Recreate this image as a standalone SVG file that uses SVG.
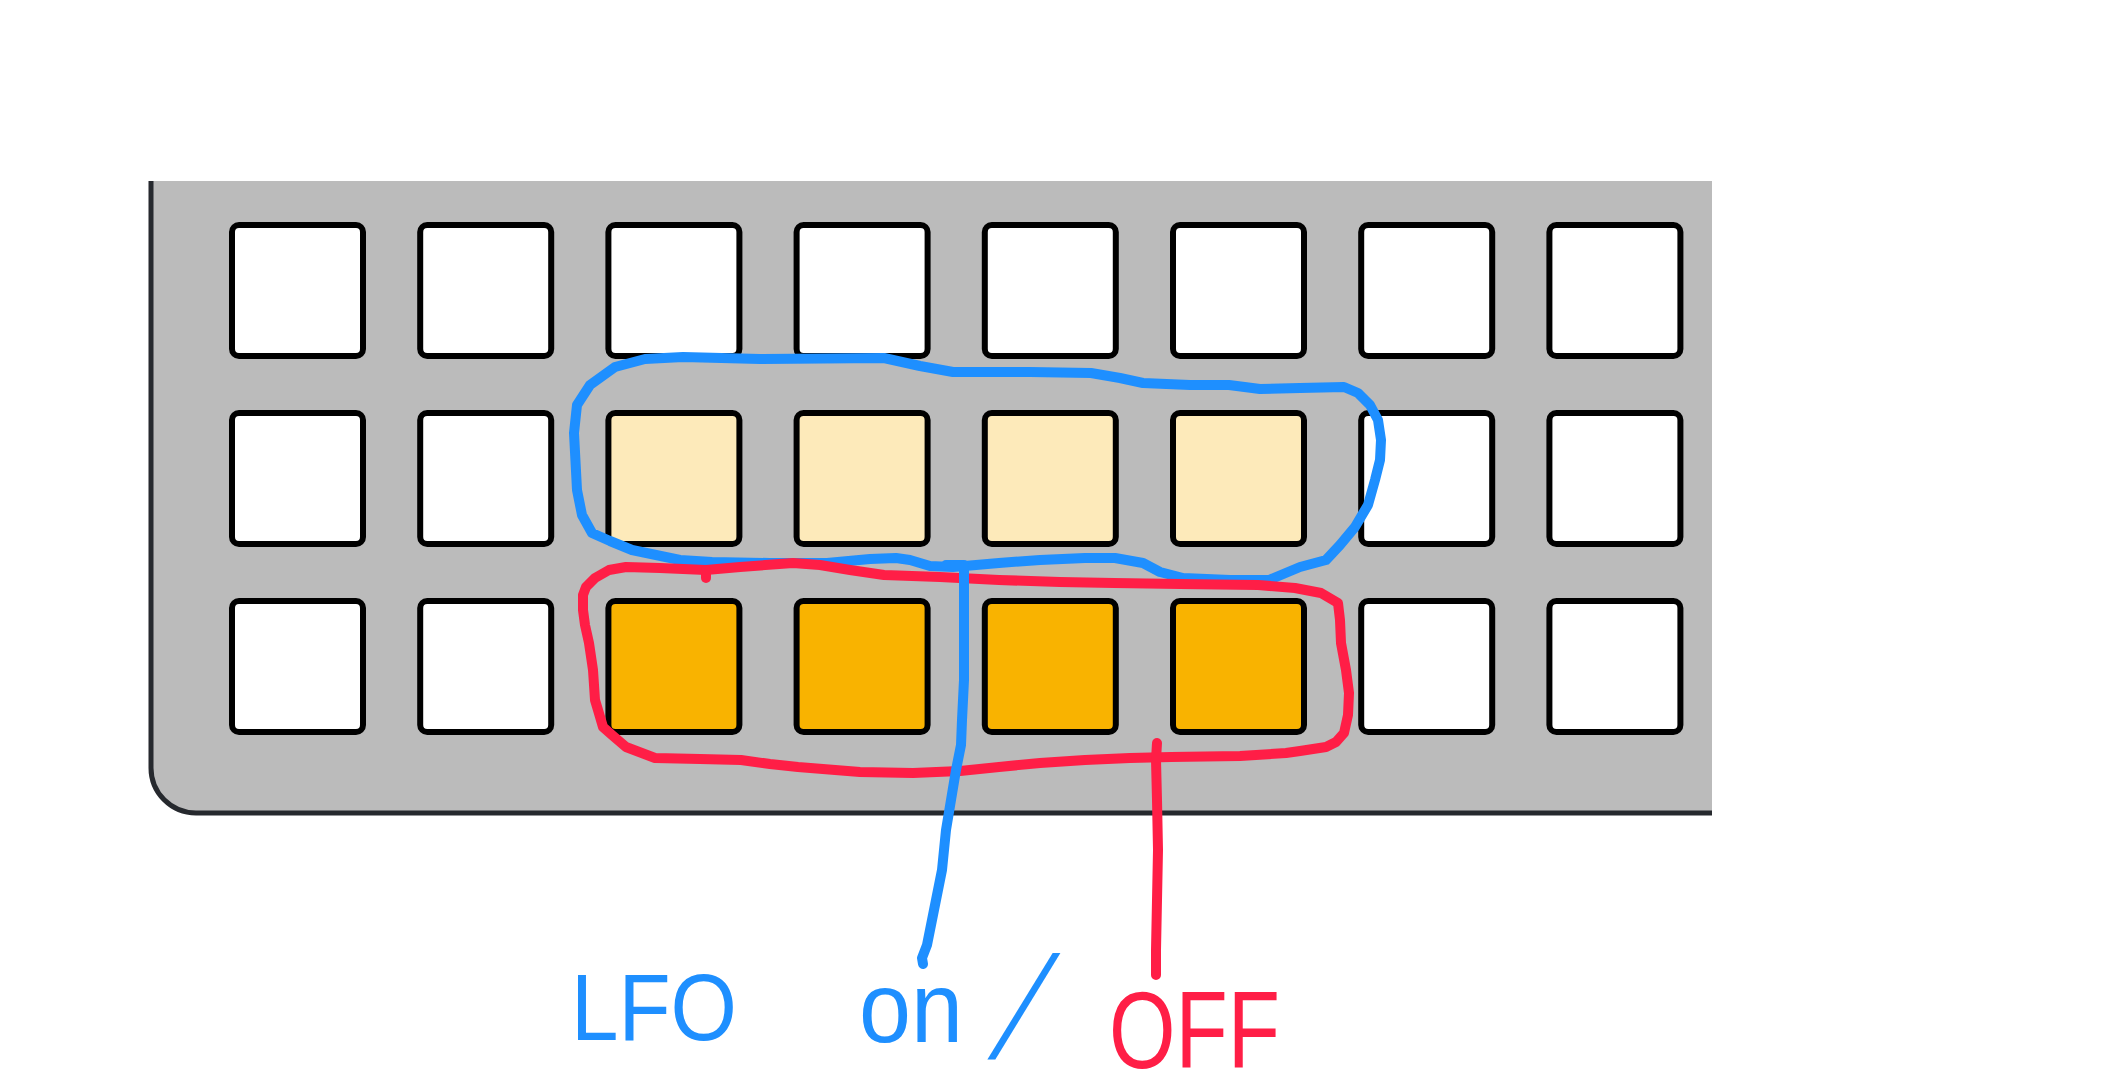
<svg xmlns="http://www.w3.org/2000/svg" width="2117" height="1091" viewBox="0 0 2117 1091">
<style>
.key{stroke:#000;stroke-width:6}
.off{fill:#fff}
.lfo{fill:#fdeaba}
.on{fill:#f9b300}
.pen{fill:none;stroke-width:10;stroke-linecap:round;stroke-linejoin:round}
.blue{stroke:#1e8fff}
.red{stroke:#ff1e46}
.hand{font-family:"Liberation Sans","DejaVu Sans",sans-serif}
</style>
<rect width="2117" height="1091" fill="#fff"/>
<g id="panel">
<path d="M151 181 V768 A45 45 0 0 0 196 813 H1712 V181 Z" fill="#bbbbbb"/>
<path d="M151 181 V768 A45 45 0 0 0 196 813 H1712" fill="none" stroke="#26292e" stroke-width="5"/>
</g>
<g id="keys">
<g id="key-r1c1"><rect class="key off" x="232" y="225" width="131" height="131" rx="7"/></g>
<g id="key-r1c2"><rect class="key off" x="420.2" y="225" width="131" height="131" rx="7"/></g>
<g id="key-r1c3"><rect class="key off" x="608.4" y="225" width="131" height="131" rx="7"/></g>
<g id="key-r1c4"><rect class="key off" x="796.6" y="225" width="131" height="131" rx="7"/></g>
<g id="key-r1c5"><rect class="key off" x="984.8" y="225" width="131" height="131" rx="7"/></g>
<g id="key-r1c6"><rect class="key off" x="1173" y="225" width="131" height="131" rx="7"/></g>
<g id="key-r1c7"><rect class="key off" x="1361.2" y="225" width="131" height="131" rx="7"/></g>
<g id="key-r1c8"><rect class="key off" x="1549.4" y="225" width="131" height="131" rx="7"/></g>
<g id="key-r2c1"><rect class="key off" x="232" y="413" width="131" height="131" rx="7"/></g>
<g id="key-r2c2"><rect class="key off" x="420.2" y="413" width="131" height="131" rx="7"/></g>
<g id="key-r2c3"><rect class="key lfo" x="608.4" y="413" width="131" height="131" rx="7"/></g>
<g id="key-r2c4"><rect class="key lfo" x="796.6" y="413" width="131" height="131" rx="7"/></g>
<g id="key-r2c5"><rect class="key lfo" x="984.8" y="413" width="131" height="131" rx="7"/></g>
<g id="key-r2c6"><rect class="key lfo" x="1173" y="413" width="131" height="131" rx="7"/></g>
<g id="key-r2c7"><rect class="key off" x="1361.2" y="413" width="131" height="131" rx="7"/></g>
<g id="key-r2c8"><rect class="key off" x="1549.4" y="413" width="131" height="131" rx="7"/></g>
<g id="key-r3c1"><rect class="key off" x="232" y="601" width="131" height="131" rx="7"/></g>
<g id="key-r3c2"><rect class="key off" x="420.2" y="601" width="131" height="131" rx="7"/></g>
<g id="key-r3c3"><rect class="key on" x="608.4" y="601" width="131" height="131" rx="7"/></g>
<g id="key-r3c4"><rect class="key on" x="796.6" y="601" width="131" height="131" rx="7"/></g>
<g id="key-r3c5"><rect class="key on" x="984.8" y="601" width="131" height="131" rx="7"/></g>
<g id="key-r3c6"><rect class="key on" x="1173" y="601" width="131" height="131" rx="7"/></g>
<g id="key-r3c7"><rect class="key off" x="1361.2" y="601" width="131" height="131" rx="7"/></g>
<g id="key-r3c8"><rect class="key off" x="1549.4" y="601" width="131" height="131" rx="7"/></g>
</g>
<g id="loops">
<path id="lfo-loop" class="pen blue" d="M577 490 L574 433 L577 405 L590 385 L615 367 L645 359 L683 357 L760 359 L884 358 L920 366 L953 372 L1030 372 L1091 373 L1120 378 L1143 383 L1190 385 L1229 385 L1260 389 L1300 388 L1344 387 L1358 393 L1370 405 L1378 420 L1381 440 L1380 460 L1375 480 L1368 505 L1355 527 L1340 545 L1326 560 L1300 567 L1269 580 L1230 580 L1183 578 L1160 572 L1143 563 L1115 558 L1085 558 L1040 560 L999 563 L953 567 L930 566 L910 560 L896 558 L870 559 L827 563 L770 563 L712 562 L680 560 L632 550 L610 541 L592 533 L582 515 Z"/>
<path id="onoff-loop" class="pen red" d="M609 570 L626 567 L660 568 L706 570 L740 567 L793 563 L820 565 L850 570 L884 575 L940 577 L999 580 L1060 582 L1114 583 L1180 584 L1258 585 L1295 588 L1321 593 L1338 603 L1340 620 L1341 643 L1346 670 L1349 693 L1348 715 L1344 733 L1336 742 L1326 747 L1300 751 L1286 753 L1240 756 L1171 757 L1130 758 L1085 760 L1040 763 L999 767 L960 771 L913 773 L860 772 L798 767 L770 764 L741 760 L700 759 L655 758 L626 747 L612 735 L603 727 L598 710 L595 700 L593 670 L589 643 L585 625 L583 610 L583 595 L586 587 L595 578 Z"/>
<path class="pen red" d="M706 570 L706 578"/>
</g>
<g id="connectors">
<path id="lfo-leader" class="pen blue" d="M946 565 L964 565 M964 567 L964 600 L964 680 L962 720 L961 745 L956 770 L951 800 L946 830 L942 870 L936 900 L931 925 L927 945 L922 958 L923 964"/>
<path id="onoff-leader" class="pen red" d="M1157 743 L1156 760 L1157 800 L1158 850 L1157 900 L1156 950 L1156 975"/>
</g>
<g id="labels" class="hand">
<text x="571" y="1040" font-size="95" fill="#1e8fff" textLength="166" lengthAdjust="spacingAndGlyphs">LFO</text>
<text x="859" y="1042" font-size="100" fill="#1e8fff" textLength="104" lengthAdjust="spacingAndGlyphs">on</text>
<text transform="translate(988 1058) skewX(-23) scale(1 1.45)" x="0" y="0" font-size="100" fill="#1e8fff">/</text>
<text x="1109" y="1068" font-size="110" fill="#ff1e46" textLength="171" lengthAdjust="spacingAndGlyphs">OFF</text>
</g>
</svg>
